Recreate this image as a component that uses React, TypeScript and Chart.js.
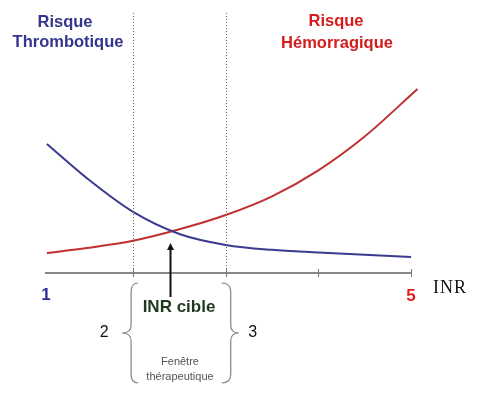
import React, { useEffect, useRef } from "react";
import { Chart, registerables } from "chart.js";

Chart.register(...registerables);

// INR values (x) and relative risk (y, arbitrary units 0-100)
const thromboINR = [1.07, 1.5, 2, 2.5, 3, 3.5, 4, 4.5, 5];
const thromboRisk = [49.6, 36.5, 23.5, 15.0, 10.8, 8.9, 7.9, 7.0, 6.2];
const hemoINR = [1.07, 1.5, 2, 2.5, 3, 3.5, 4, 4.5, 5.07];
const hemoRisk = [7.7, 9.6, 12.4, 16.8, 22.3, 29.5, 39.5, 52.5, 70.8];
const axisTicks = [2, 3, 4, 5];
const windowBounds = [2, 3];
const targetINR = 2.4;
const startLabel = "1";
const endLabel = "5";

const BLUE = "#3a3b8e";
const RED = "#c03030";

const annotate = {
  id: "annotate",
  afterDraw(chart: any) {
    const ctx = chart.ctx;
    const x = chart.scales.x;
    const area = chart.chartArea;
    const axisY = area.bottom;
    ctx.save();

    // dotted window lines
    ctx.strokeStyle = "#6b6b6b";
    ctx.lineWidth = 1;
    ctx.setLineDash([1, 2]);
    windowBounds.forEach((v) => {
      const px = Math.round(x.getPixelForValue(v)) + 0.5;
      ctx.beginPath();
      ctx.moveTo(px, area.top);
      ctx.lineTo(px, axisY);
      ctx.stroke();
    });
    ctx.setLineDash([]);

    // tick marks
    ctx.strokeStyle = "#777";
    ctx.lineWidth = 1;
    axisTicks.forEach((v) => {
      const px = Math.round(x.getPixelForValue(v)) + 0.5;
      ctx.beginPath();
      ctx.moveTo(px, axisY - 4);
      ctx.lineTo(px, axisY + 4);
      ctx.stroke();
    });

    // arrow to target INR
    const ax = Math.round(x.getPixelForValue(targetINR)) + 0.5;
    ctx.strokeStyle = "#111";
    ctx.fillStyle = "#111";
    ctx.lineWidth = 2;
    ctx.beginPath();
    ctx.moveTo(ax, axisY + 24);
    ctx.lineTo(ax, axisY - 25);
    ctx.stroke();
    ctx.beginPath();
    ctx.moveTo(ax, axisY - 30);
    ctx.lineTo(ax - 3.5, axisY - 23);
    ctx.lineTo(ax + 3.5, axisY - 23);
    ctx.closePath();
    ctx.fill();

    // braces
    const lx = x.getPixelForValue(windowBounds[0]) - 2;
    const rx = x.getPixelForValue(windowBounds[1]) + 5;
    const top = axisY + 10;
    const bot = axisY + 110;
    const mid = (top + bot) / 2;
    ctx.strokeStyle = "#7d8a7d";
    ctx.lineWidth = 1.2;
    ctx.beginPath();
    ctx.moveTo(lx + 7, top);
    ctx.quadraticCurveTo(lx, top, lx, top + 9);
    ctx.lineTo(lx, mid - 8);
    ctx.quadraticCurveTo(lx, mid, lx - 9, mid);
    ctx.quadraticCurveTo(lx, mid, lx, mid + 8);
    ctx.lineTo(lx, bot - 9);
    ctx.quadraticCurveTo(lx, bot, lx + 7, bot);
    ctx.stroke();
    ctx.beginPath();
    ctx.moveTo(rx - 9, top);
    ctx.quadraticCurveTo(rx, top, rx, top + 9);
    ctx.lineTo(rx, mid - 8);
    ctx.quadraticCurveTo(rx, mid, rx + 8, mid);
    ctx.quadraticCurveTo(rx, mid, rx, mid + 8);
    ctx.lineTo(rx, bot - 9);
    ctx.quadraticCurveTo(rx, bot, rx - 9, bot);
    ctx.stroke();

    // texts
    ctx.textAlign = "center";
    ctx.textBaseline = "middle";
    ctx.font = "bold 16.5px 'Liberation Sans', Arial, sans-serif";
    ctx.fillStyle = "#34358c";
    ctx.fillText("Risque", 65, 22);
    ctx.fillText("Thrombotique", 68, 42);
    ctx.fillStyle = "#d41c1c";
    ctx.fillText("Risque", 336, 21);
    ctx.fillText("Hémorragique", 337, 43);

    ctx.font = "bold 17px 'Liberation Sans', Arial, sans-serif";
    ctx.fillStyle = "#2e2e96";
    ctx.fillText(startLabel, area.left, axisY + 22);
    ctx.fillStyle = "#e01e1e";
    ctx.fillText(endLabel, x.getPixelForValue(5), axisY + 23);

    ctx.fillStyle = "#111";
    ctx.font = "18px 'Liberation Serif', 'Times New Roman', serif";
    (ctx as any).letterSpacing = "1px";
    ctx.fillText("INR", 450, axisY + 15);
    (ctx as any).letterSpacing = "0px";

    ctx.font = "16px 'Liberation Sans', Arial, sans-serif";
    ctx.fillText(String(windowBounds[0]), lx - 27, mid);
    ctx.fillText(String(windowBounds[1]), rx + 22, mid);

    ctx.font = "bold 17px 'Liberation Sans', Arial, sans-serif";
    ctx.fillStyle = "#1e3a1e";
    ctx.fillText("INR cible", 179, axisY + 34);

    ctx.font = "11px 'Liberation Sans', Arial, sans-serif";
    ctx.fillStyle = "#555";
    ctx.fillText("Fenêtre", 180, axisY + 89);
    ctx.fillText("thérapeutique", 180, axisY + 104);

    ctx.restore();
  },
};

export default function App() {
  const ref = useRef<HTMLCanvasElement | null>(null);
  useEffect(() => {
    if (!ref.current) return;
    const chart = new Chart(ref.current, {
      type: "line",
      data: {
        datasets: [
          {
            label: "Risque Thrombotique",
            data: thromboINR.map((v, i) => ({ x: v, y: thromboRisk[i] })),
            borderColor: BLUE,
            borderWidth: 2,
            pointRadius: 0,
            cubicInterpolationMode: "monotone",
            clip: false as any,
          },
          {
            label: "Risque Hémorragique",
            data: hemoINR.map((v, i) => ({ x: v, y: hemoRisk[i] })),
            borderColor: RED,
            borderWidth: 2,
            pointRadius: 0,
            cubicInterpolationMode: "monotone",
            clip: false as any,
          },
        ],
      },
      options: {
        animation: false,
        responsive: true,
        maintainAspectRatio: false,
        layout: { padding: { left: 46, right: 80, top: 13, bottom: 115 } },
        plugins: { legend: { display: false }, tooltip: { enabled: false } },
        scales: {
          x: {
            type: "linear",
            min: 1.06,
            max: 5,
            display: true,
            ticks: { display: false },
            grid: { display: false },
            border: { display: true, color: "#888", width: 2 },
          },
          y: { type: "linear", min: 0, max: 100, display: false },
        },
      },
      plugins: [annotate],
    });
    return () => chart.destroy();
  }, []);
  return (
    <div style={{ position: "absolute", left: 0, top: 0, width: 491, height: 396, background: "#fff" }}>
      <canvas ref={ref} />
    </div>
  );
}
